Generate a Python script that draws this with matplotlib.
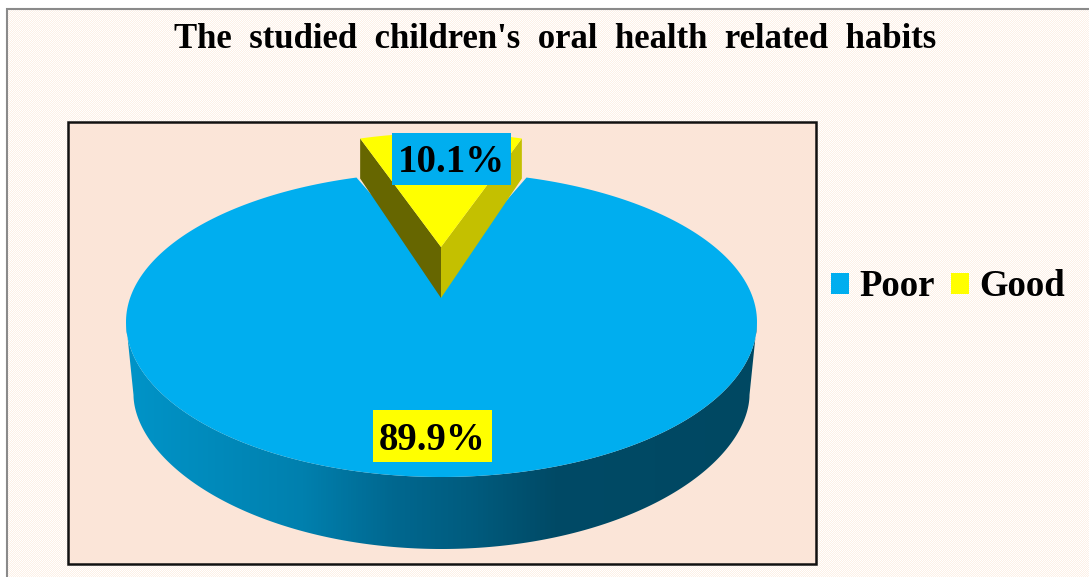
import numpy as np
import matplotlib
matplotlib.use('Agg')
import matplotlib.pyplot as plt
from matplotlib.colors import LinearSegmentedColormap
from matplotlib.patches import Polygon, Patch, Rectangle

title = "The studied children's oral health related habits"
categories = ['Poor', 'Good']
shares = [89.9, 10.1]
share_labels = ['89.9%', '10.1%']
colors = ['#00AEEF', '#FFFF00']

W, H = 1089, 577
plt.rcParams['font.family'] = ['Liberation Serif', 'DejaVu Serif']

fig = plt.figure(figsize=(W / 100, H / 100), dpi=100, facecolor='white')
ax = fig.add_axes([0, 0, 1, 1])

# chart area: fine dotted peach fill
yy, xx = np.mgrid[0:H - 10, 0:W - 8]
dots = ((xx + yy) % 2).astype(float)
dotted = LinearSegmentedColormap.from_list('dot', ['#FFFFFF', '#FDF0E6'])
ax.imshow(dots, cmap=dotted, extent=(8, W, H, 10), aspect='auto', zorder=0, interpolation='nearest')
ax.plot([7, 7, W], [H, 9, 9], color='#8A8A8A', lw=1.5, zorder=1, solid_joinstyle='miter')

# plot area
ax.add_patch(Rectangle((67.5, 122), 748, 441.5, fc='#FBE5D8', ec='#111111', lw=1.8, zorder=1))
ax.set_xlim(0, W)
ax.set_ylim(H, 0)
ax.axis('off')

cx = 441.5
top_cy, top_rx, top_ry, top_ry_back = 322, 315.5, 155, 150
bot_cy, bot_rx, bot_ry = 395, 308, 154

# half angle of the Good slice, squeezed a bit since the back of the pie is further away
half = np.radians(360 * shares[1] / 100 / 2) * 0.86


def arc(c_x, c_y, rx, ry, a0, a1, n=300, ry_back=None, power=1.0):
    # angles measured clockwise from 12 o'clock
    t = np.linspace(a0, a1, n)
    c = np.cos(t)
    ys = np.where(c > 0, ry if ry_back is None else ry_back, ry) * np.sign(c) * np.abs(c) ** power
    return np.column_stack([c_x + rx * np.sin(t), c_y - ys])


# side wall of the big slice with horizontal gradient
wall = np.vstack([arc(cx, top_cy, top_rx, top_ry, 3 * np.pi / 2, np.pi / 2),
                  arc(cx, bot_cy, bot_rx, bot_ry, np.pi / 2, 3 * np.pi / 2, power=1.08)])
wall_patch = Polygon(wall, closed=True, fc='none', ec='none', zorder=2)
ax.add_patch(wall_patch)
wall_cmap = LinearSegmentedColormap.from_list(
    'wall', [(0, '#0094C8'), (0.28, '#0080AE'), (0.42, '#006890'), (0.56, '#005A7C'), (0.68, '#004A66'),
             (1, '#004862')])
grad = ax.imshow(np.linspace(0, 1, 640).reshape(1, -1), cmap=wall_cmap, extent=(126, 757, H, 0),
                 aspect='auto', zorder=2)
grad.set_clip_path(wall_patch)
ax.set_xlim(0, W)
ax.set_ylim(H, 0)

# top face of Poor with the notch, its tip stays hidden under the Good slice
top_face = np.vstack([arc(cx, top_cy, top_rx, top_ry, half, 2 * np.pi - half, ry_back=top_ry_back),
                      [[cx, 275]]])
ax.add_patch(Polygon(top_face, closed=True, fc=colors[0], ec='none', zorder=3))

# exploded Good slice
gx, gy, g_rx, g_ry = cx - 0.5, 282, 300, 149
apex_top, apex_bot = 247, 298
edge = arc(gx, gy, g_rx, g_ry, -half, half, 80)
left, right = edge[0], edge[-1]
depth = 40
ax.add_patch(Polygon([left, [gx, apex_top], [gx, apex_bot], left + [0, depth]], closed=True,
                     fc='#666600', ec='none', zorder=4))
ax.add_patch(Polygon([right, [gx, apex_top], [gx, apex_bot], right + [0, depth]], closed=True,
                     fc='#C4C000', ec='none', zorder=4))
ax.add_patch(Polygon(np.vstack([edge, [[gx, apex_top]]]), closed=True, fc=colors[1], ec='none', zorder=5))

# value labels, boxes filled with the other slice colour
ax.add_patch(Rectangle((373, 410), 119, 52, fc=colors[1], ec='none', zorder=6))
ax.text(432, 440.5, share_labels[0], fontsize=28, fontweight='bold', ha='center', va='center', zorder=7)
ax.add_patch(Rectangle((392, 133), 119, 52, fc=colors[0], ec='none', zorder=6))
ax.text(451, 163, share_labels[1], fontsize=28, fontweight='bold', ha='center', va='center', zorder=7)

# original has wide gaps between the title words
ax.text(555, 40, title.replace(' ', '  '), fontsize=25, fontweight='bold', ha='center', va='center', zorder=7)

handles = [Patch(fc=colors[0], label=categories[0]), Patch(fc=colors[1], label=categories[1])]
ax.legend(handles=handles, ncol=2, loc='center', bbox_to_anchor=(948 / W, 1 - 287 / H), frameon=False,
          prop=dict(size=26.5, weight='bold'), handlelength=0.5, handleheight=0.5, handletextpad=0.27,
          columnspacing=0.44, borderpad=0, borderaxespad=0)

fig.savefig('out.png', dpi=100, facecolor='white')
